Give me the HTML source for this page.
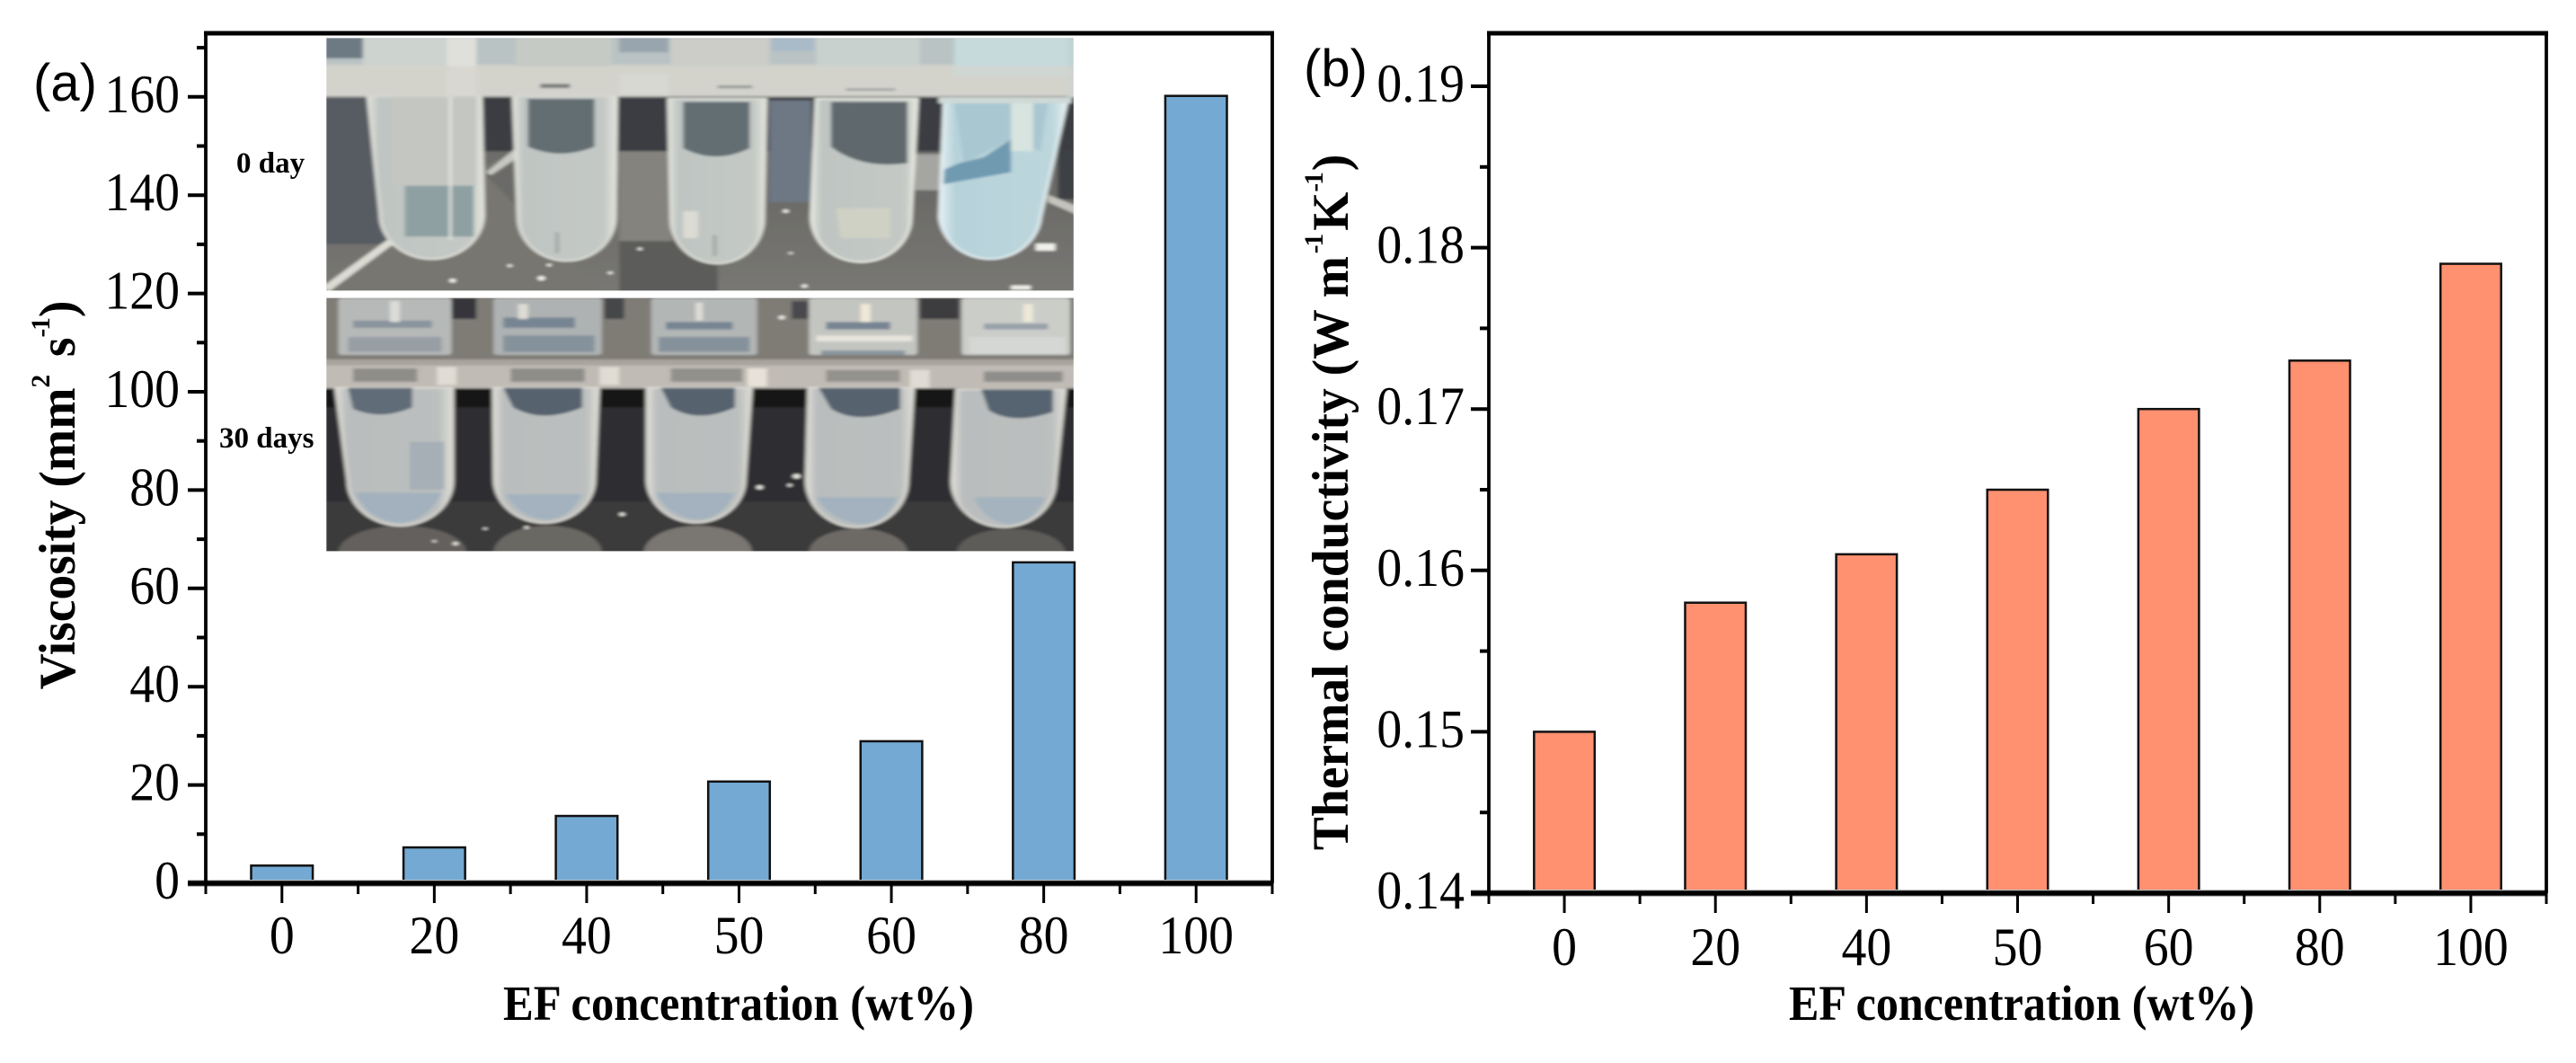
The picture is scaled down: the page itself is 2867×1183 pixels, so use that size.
<!DOCTYPE html>
<html lang="en">
<head>
<meta charset="utf-8">
<title>EF concentration: viscosity and thermal conductivity</title>
<style>
html,body{margin:0;padding:0;background:#fff;width:2867px;height:1183px;overflow:hidden}
svg{display:block;font-family:"Liberation Serif",serif}
</style>
</head>
<body>
<svg id="figure" xmlns="http://www.w3.org/2000/svg" width="2867" height="1183" viewBox="0 0 2867 1183">
<defs>
  <filter id="soft" x="-2%" y="-2%" width="104%" height="104%"><feGaussianBlur stdDeviation="4 4"/></filter>
  <clipPath id="clip1"><rect x="6" y="22" width="1516" height="843"/></clipPath>
  <clipPath id="clip2"><rect x="6" y="20" width="1516" height="845"/></clipPath>
  <linearGradient id="p1bg" x1="0" y1="0" x2="0" y2="1">
    <stop offset="0" stop-color="#747472"/><stop offset=".6" stop-color="#6b6a67"/><stop offset="1" stop-color="#7a7975"/>
  </linearGradient>
  <linearGradient id="tubeA" x1="0" y1="0" x2="1" y2="0">
    <stop offset="0" stop-color="#dfe2da"/><stop offset=".1" stop-color="#bfc5c2"/><stop offset=".88" stop-color="#c4c9c5"/><stop offset="1" stop-color="#e4e5de"/>
  </linearGradient>
  <linearGradient id="tubeB" x1="0" y1="0" x2="1" y2="0">
    <stop offset="0" stop-color="#e4f0f2"/><stop offset=".12" stop-color="#b7d2da"/><stop offset=".88" stop-color="#bcd6dc"/><stop offset="1" stop-color="#e6f1f2"/>
  </linearGradient>
  <linearGradient id="tubeC" x1="0" y1="0" x2="1" y2="0">
    <stop offset="0" stop-color="#dedcd6"/><stop offset=".1" stop-color="#b9bdbd"/><stop offset=".88" stop-color="#bbbfbe"/><stop offset="1" stop-color="#dfddd6"/>
  </linearGradient>
</defs>

<g id="panel-a"></g>
<g id="panel-b"></g>

<!-- Inset photo: 0 day -->
<g transform="translate(360,35) scale(.5485,.33333)" clip-path="url(#clip1)">
 <g filter="url(#soft)">
  <rect x="0" y="0" width="1540" height="900" fill="url(#p1bg)"/>
  <rect x="0" y="210" width="1540" height="190" fill="#3b3e42"/>
  <rect x="0" y="210" width="130" height="500" fill="#565b62"/>
  <rect x="905" y="230" width="85" height="340" fill="#6d7884"/>
  <polygon points="130,700 0,830 0,870 330,870 560,870 330,480 390,400 130,600" fill="#77766f"/>
  <polygon points="0,850 130,695 140,712 10,870" fill="#dcdcd4"/>
  <polygon points="330,470 390,390 395,420 340,480" fill="#c7c8c2"/>
  <rect x="600" y="400" width="105" height="470" fill="#84837e"/>
  <rect x="600" y="700" width="200" height="170" fill="#5c5c5a"/>
  <rect x="1200" y="410" width="60" height="120" fill="#a5a6a2"/>
  <rect x="1490" y="400" width="50" height="160" fill="#3c4044"/>
  <polygon points="1470,545 1540,590 1540,620 1470,570" fill="#c4c4bc"/>
  <rect x="0" y="20" width="1540" height="100" fill="#b9c3c4"/>
  <rect x="0" y="20" width="80" height="70" fill="#6d7a84"/>
  <rect x="600" y="20" width="100" height="50" fill="#99a5ae"/>
  <rect x="910" y="20" width="85" height="45" fill="#a9bac8"/>
  <rect x="0" y="110" width="1540" height="105" fill="#cfcfc8"/>
  <rect x="600" y="140" width="100" height="75" fill="#e2e2dc"/>
  <rect x="80" y="20" width="170" height="100" fill="#cdd3cf"/>
  <rect x="250" y="20" width="60" height="200" fill="#dfe0da"/>
  <rect x="390" y="20" width="195" height="100" fill="#c6cac5"/>
  <rect x="705" y="20" width="200" height="100" fill="#cccdc8"/>
  <rect x="1000" y="20" width="210" height="100" fill="#c9d1ce"/>
  <rect x="1280" y="20" width="230" height="130" fill="#c6dadc"/>
  <rect x="1510" y="20" width="30" height="200" fill="#c2d3d4"/>

  <!-- tube 1 -->
  <path d="M90,215 L115,610 A105,150 0 0 0 325,610 L320,215 Z" fill="url(#tubeA)" stroke="#dfe0d9" stroke-width="6"/>
  <rect x="140" y="215" width="170" height="300" fill="#c4c6c2"/>
  <rect x="165" y="515" width="140" height="170" fill="#8ea0a2"/>
  <rect x="255" y="215" width="5" height="480" fill="#e8e8e4"/>
  <!-- tube 2 -->
  <path d="M385,215 L395,620 A98,145 0 0 0 592,620 L595,215 Z" fill="url(#tubeA)" stroke="#dfe0d9" stroke-width="6"/>
  <path d="M415,225 H550 V385 Q480,430 415,385 Z" fill="#646e73"/>
  <rect x="470" y="670" width="8" height="70" fill="#a3a9a6"/>
  <!-- tube 3 -->
  <path d="M700,225 L705,625 A94,150 0 0 0 893,625 L898,225 Z" fill="url(#tubeA)" stroke="#dfe0d9" stroke-width="6"/>
  <path d="M730,235 H865 V390 Q795,445 730,390 Z" fill="#646e73"/>
  <rect x="730" y="600" width="30" height="90" fill="#dcdcd4"/>
  <rect x="790" y="680" width="8" height="70" fill="#a3a9a6"/>
  <!-- tube 4 -->
  <path d="M1000,225 L990,620 A101,150 0 0 0 1192,620 L1205,225 Z" fill="url(#tubeA)" stroke="#e8eae2" stroke-width="6"/>
  <path d="M1030,235 H1185 V440 Q1090,460 1030,385 Z" fill="#5f696d"/>
  <path d="M1040,590 H1150 V690 H1050 Z" fill="#cfd1c4"/>
  <!-- tube 5 -->
  <path d="M1260,225 L1250,620 A103,155 0 0 0 1455,620 L1510,225 Z" fill="url(#tubeB)" stroke="#e6f1f2" stroke-width="6"/>
  <path d="M1280,240 H1470 L1455,400 L1395,360 L1300,440 Z" fill="#a9c7d1"/>
  <path d="M1258,510 L1395,470 L1395,360 L1340,420 L1290,440 L1260,460 Z" fill="#6f9ab0"/>
  <rect x="1395" y="240" width="45" height="160" fill="#d8e4df"/>
  <rect x="1248" y="220" width="270" height="20" fill="#cfd9d7"/>

  <rect x="0" y="115" width="1540" height="105" fill="#d4d4cd" opacity=".7"/>
  <rect x="440" y="175" width="60" height="14" fill="#7c7e7c"/>
  <rect x="800" y="180" width="70" height="10" fill="#9a9c9a"/>
  <rect x="1060" y="190" width="100" height="8" fill="#a0a4a4"/>
  <g fill="#f0f0ea">
   <circle cx="262" cy="832" r="7"/><circle cx="442" cy="824" r="8"/><circle cx="378" cy="782" r="5"/><circle cx="458" cy="780" r="5"/>
   <circle cx="582" cy="806" r="5"/><circle cx="642" cy="726" r="5"/><circle cx="938" cy="600" r="6"/><circle cx="976" cy="850" r="6"/><circle cx="948" cy="740" r="4"/>
   <rect x="1445" y="708" width="40" height="24"/><rect x="1395" y="848" width="40" height="14"/>
  </g>
 </g>
</g>

<!-- Inset photo: 30 days -->
<g transform="translate(360,325) scale(.5485,.33333)" clip-path="url(#clip2)">
 <g filter="url(#soft)">
  <rect x="0" y="0" width="1540" height="250" fill="#7f7b76"/>
  <rect x="0" y="320" width="1540" height="70" fill="#141416"/>
  <rect x="0" y="385" width="1540" height="490" fill="#2f2f31"/>
  <rect x="0" y="700" width="1540" height="170" fill="#3a3a3b"/>
  <ellipse cx="160" cy="870" rx="130" ry="90" fill="#63605d"/>
  <ellipse cx="455" cy="870" rx="110" ry="90" fill="#6b6864"/>
  <ellipse cx="760" cy="870" rx="110" ry="90" fill="#7a7671"/>
  <ellipse cx="1085" cy="870" rx="100" ry="80" fill="#6d6a66"/>
  <ellipse cx="1395" cy="870" rx="110" ry="80" fill="#5d5b58"/>
  <rect x="260" y="20" width="50" height="70" fill="#35363a"/>
  <rect x="570" y="20" width="40" height="70" fill="#45464a"/>
  <rect x="950" y="30" width="35" height="60" fill="#4a4a4d"/>
  <rect x="1210" y="20" width="80" height="70" fill="#3c3c3f"/>

  <rect x="0" y="240" width="1540" height="82" fill="#c0bbb4"/>
  <rect x="60" y="255" width="130" height="45" fill="#8f8d88"/>
  <rect x="380" y="255" width="150" height="45" fill="#8f8d88"/>
  <rect x="705" y="255" width="145" height="45" fill="#92908b"/>
  <rect x="1020" y="260" width="150" height="40" fill="#94928d"/>
  <rect x="1340" y="265" width="160" height="35" fill="#908e8a"/>
  <rect x="230" y="250" width="40" height="60" fill="#e0dcd4"/>
  <rect x="560" y="250" width="40" height="60" fill="#e0dcd4"/>
  <rect x="860" y="255" width="40" height="60" fill="#e6e2da"/>
  <rect x="1190" y="260" width="40" height="60" fill="#e0dcd4"/>
  <rect x="0" y="225" width="1540" height="20" fill="#a9a49d"/>

  <!-- caps -->
  <g>
   <rect x="30" y="20" width="230" height="190" rx="8" fill="#b6b9b7"/>
   <rect x="345" y="20" width="220" height="190" rx="8" fill="#aeb2b2"/>
   <rect x="665" y="20" width="215" height="190" rx="8" fill="#b2b6b5"/>
   <rect x="985" y="20" width="220" height="190" rx="8" fill="#c3c5c0"/>
   <rect x="1295" y="20" width="220" height="190" rx="8" fill="#cbcdc9"/>
   <g fill="#778593">
    <rect x="60" y="95" width="160" height="25" opacity=".7"/><rect x="50" y="150" width="190" height="50" opacity=".5"/>
    <rect x="365" y="85" width="145" height="35"/><rect x="365" y="145" width="185" height="55" opacity=".75"/>
    <rect x="695" y="100" width="135" height="25"/><rect x="680" y="150" width="185" height="50" opacity=".75"/>
    <rect x="1020" y="100" width="130" height="25"/><rect x="1010" y="195" width="170" height="15" opacity=".75"/>
    <rect x="1340" y="105" width="130" height="20" opacity=".6"/>
   </g>
   <rect x="135" y="30" width="20" height="70" fill="#dcdcd8"/>
   <rect x="395" y="40" width="20" height="50" fill="#dedcd4"/>
   <rect x="755" y="35" width="15" height="60" fill="#dedcd4"/>
   <rect x="1090" y="40" width="20" height="60" fill="#f0e8d8"/>
   <rect x="1420" y="40" width="20" height="60" fill="#ede8d8"/>
   <rect x="1000" y="145" width="195" height="20" fill="#e6e4dc"/>
   <rect x="1310" y="150" width="195" height="55" fill="#d5d7d4"/>
  </g>

  <!-- lower tubes -->
  <path d="M25,320 L50,630 A106,150 0 0 0 262,630 L262,320 Z" fill="url(#tubeC)" stroke="#dcdad4" stroke-width="6"/>
  <path d="M50,320 H180 V385 Q115,430 60,390 Z" fill="#616c78"/>
  <path d="M65,670 H240 Q210,770 150,770 Q90,760 65,670 Z" fill="#a2b1bd"/>
  <rect x="175" y="500" width="70" height="160" fill="#a6afb6"/>
  <path d="M345,320 L347,625 A101,145 0 0 0 550,625 L558,320 Z" fill="url(#tubeC)" stroke="#dcdad4" stroke-width="6"/>
  <path d="M365,320 H525 V385 Q445,440 385,385 Z" fill="#56626e"/>
  <path d="M370,675 H525 Q500,760 450,760 Q395,750 370,675 Z" fill="#a3b2be"/>
  <path d="M657,320 L657,625 A99,145 0 0 0 855,625 L868,320 Z" fill="url(#tubeC)" stroke="#dcdad4" stroke-width="6"/>
  <path d="M685,320 H835 V385 Q760,440 705,385 Z" fill="#56626e"/>
  <path d="M675,670 H835 Q810,760 755,760 Q700,750 675,670 Z" fill="#a3b2be"/>
  <path d="M985,320 L980,630 A102,155 0 0 0 1185,630 L1197,320 Z" fill="url(#tubeC)" stroke="#dcdad4" stroke-width="6"/>
  <path d="M1005,320 H1170 V390 Q1085,445 1030,390 Z" fill="#56626e"/>
  <path d="M1000,685 H1165 Q1140,775 1090,775 Q1030,765 1000,685 Z" fill="#a3b2be"/>
  <path d="M1285,325 L1275,630 A105,155 0 0 0 1485,630 L1505,325 Z" fill="url(#tubeC)" stroke="#dcdad4" stroke-width="6"/>
  <path d="M1335,325 H1480 V400 Q1400,445 1350,395 Z" fill="#566370"/>
  <path d="M1320,685 H1465 Q1440,775 1390,775 Q1340,765 1320,685 Z" fill="#a5b3be"/>
  <g fill="#e8e6e0">
   <circle cx="885" cy="652" r="7"/><circle cx="960" cy="615" r="8"/><circle cx="946" cy="645" r="5"/><circle cx="606" cy="742" r="6"/>
   <circle cx="412" cy="786" r="5"/><circle cx="328" cy="790" r="4"/><circle cx="268" cy="840" r="6"/><circle cx="225" cy="832" r="4"/>
   <circle cx="930" cy="85" r="7"/>
  </g>
 </g>
</g>
<text x="263" y="192" font-size="33" font-weight="bold" fill="#000">0 day</text>
<text x="244" y="498" font-size="33" font-weight="bold" fill="#000">30 days</text>

<script>
var categories = ['0','20','40','50','60','80','100'];
var viscosityValues = [3.6, 7.3, 13.7, 20.7, 28.9, 65.3, 160.2];
var conductivityValues = [0.150, 0.158, 0.161, 0.165, 0.170, 0.173, 0.179];
var viscosityMajorTicks = [0, 20, 40, 60, 80, 100, 120, 140, 160];
var viscosityMinorTicks = [10, 30, 50, 70, 90, 110, 130, 150, 170];
var viscosityTickLabels = ['0','20','40','60','80','100','120','140','160'];
var conductivityMajorTicks = [0.14, 0.15, 0.16, 0.17, 0.18, 0.19];
var conductivityMinorTicks = [0.145, 0.155, 0.165, 0.175, 0.185];
var conductivityTickLabels = ['0.14','0.15','0.16','0.17','0.18','0.19'];

var NS = 'http://www.w3.org/2000/svg';

function make(parent, tag, attrs) {
  var el = document.createElementNS(NS, tag);
  for (var k in attrs) { el.setAttribute(k, attrs[k]); }
  parent.appendChild(el);
  return el;
}

function drawPanel(cfg) {
  var g = document.getElementById(cfg.id);
  var n = categories.length;
  var step = (cfg.right - cfg.left) / n;
  function xPos(i) { return cfg.left + step * (i + 0.5); }
  function yPos(v) { return cfg.y0 + (v - cfg.vMin) * cfg.pxPerUnit; }

  cfg.values.forEach(function (v, i) {
    var bar = make(g, 'rect', {x: xPos(i) - cfg.barW / 2, y: yPos(v), width: cfg.barW, height: cfg.y0 - yPos(v), fill: cfg.color, stroke: '#111', 'stroke-width': 2.5});
    
    
  });

  var halo = make(g, 'line', {x1: cfg.left - 20, x2: cfg.right + 1, y1: cfg.y0, y2: cfg.y0, stroke: '#bbb', 'stroke-width': 8});
  
  

  var frame = make(g, 'path', {d: 'M' + cfg.left + ' ' + cfg.y0 + 'V' + cfg.top + 'H' + cfg.right + 'V' + cfg.y0, fill: 'none', stroke: '#000', 'stroke-width': 3.8});
  
  
  var topLine = make(g, 'line', {x1: cfg.left - 2, x2: cfg.right + 2, y1: cfg.top, y2: cfg.top, stroke: '#000', 'stroke-width': 5});
  
  

  var axis = make(g, 'line', {x1: cfg.left - 20, x2: cfg.right + 1, y1: cfg.y0, y2: cfg.y0, stroke: '#000', 'stroke-width': 5.5});
  
  

  cfg.major.forEach(function (v, i) {
    var y = yPos(v);
    var t = make(g, 'line', {x1: cfg.left - 20, x2: cfg.left, y1: y, y2: y, stroke: '#000', 'stroke-width': 4});
    
    
    var l = make(g, 'text', {transform: 'translate(' + cfg.yLabelX + ',' + (y + 17) + ') scale(.93,1)', 'text-anchor': 'end', 'font-size': 60, fill: '#000'});
    l.textContent = cfg.labels[i];
    
    
  });
  cfg.minor.forEach(function (v) {
    var y = yPos(v);
    var t = make(g, 'line', {x1: cfg.left - 10, x2: cfg.left, y1: y, y2: y, stroke: '#000', 'stroke-width': 4});
    
    
  });

  categories.forEach(function (c, i) {
    var x = xPos(i);
    var t = make(g, 'line', {x1: x, x2: x, y1: cfg.y0, y2: cfg.y0 + 22, stroke: '#000', 'stroke-width': 3});
    
    
    var l = make(g, 'text', {transform: 'translate(' + x + ',' + cfg.xLabelY + ') scale(.93,1)', 'text-anchor': 'middle', 'font-size': 60, fill: '#000'});
    l.textContent = c;
    
    
  });
  for (var m = 0; m <= n; m++) {
    var mx = cfg.left + step * m;
    var mt = make(g, 'line', {x1: mx, x2: mx, y1: cfg.y0, y2: cfg.y0 + 12, stroke: '#000', 'stroke-width': 3});
    
    
  }

  var xt = make(g, 'text', {x: cfg.xTitleX, y: 1135, 'text-anchor': 'middle', 'font-size': 55, 'font-weight': 'bold', textLength: cfg.xTitleW, lengthAdjust: 'spacingAndGlyphs', fill: '#000'});
  xt.textContent = 'EF concentration (wt%)';
  
  

  var pl = make(g, 'text', {x: cfg.tagX, y: cfg.tagY, 'font-size': 58, fill: '#000', style: 'font-family:"Liberation Sans",sans-serif'});
  pl.textContent = cfg.tag;
  
  

  var yt = make(g, 'text', {transform: 'translate(' + cfg.yTitleX + ',' + cfg.yTitleY + ') rotate(-90) scale(.975,1)', 'text-anchor': 'middle', 'font-size': 57, 'font-weight': 'bold', fill: '#000'});
  yt.setAttribute('xml:space', 'preserve');
  
  
  cfg.yTitle.forEach(function (part) {
    var s = make(yt, 'tspan', {});
    s.textContent = part[0];
    if (part[1]) {
      s.setAttribute('font-size', '30');
      s.setAttribute('letter-spacing', '-2');
      s.setAttribute('dy', '-28');
    } else if (part[2]) {
      s.setAttribute('dy', '28');
    }
    if (part[3]) {
      s.setAttribute('dx', part[3]);
    }
  });
}

drawPanel({
  id: 'panel-a', left: 229, right: 1416, top: 37, y0: 983, vMin: 0, pxPerUnit: -5.47, barW: 68.6,
  color: '#73a9d3', values: viscosityValues, major: viscosityMajorTicks, minor: viscosityMinorTicks, labels: viscosityTickLabels,
  yLabelX: 200, xLabelY: 1061, xTitleX: 822, xTitleW: 524, tag: '(a)', tagX: 37, tagY: 112,
  yTitleX: 83, yTitleY: 551,
  yTitle: [['Viscosity (mm'], ['2', true], [' s', false, true, 8], ['-1', true], [')', false, true, 2]]
});

drawPanel({
  id: 'panel-b', left: 1657, right: 2834, top: 37, y0: 994, vMin: 0.14, pxPerUnit: -17960, barW: 67.5,
  color: '#ff9070', values: conductivityValues, major: conductivityMajorTicks, minor: conductivityMinorTicks, labels: conductivityTickLabels,
  yLabelX: 1630, xLabelY: 1074, xTitleX: 2250, xTitleW: 518, tag: '(b)', tagX: 1451, tagY: 96,
  yTitleX: 1500, yTitleY: 559,
  yTitle: [['Thermal conductivity (W  m'], ['-1', true, false, 3], ['K', false, true, 5], ['-1', true], [')', false, true, 3]]
});
</script>
</svg>
</body>
</html>
